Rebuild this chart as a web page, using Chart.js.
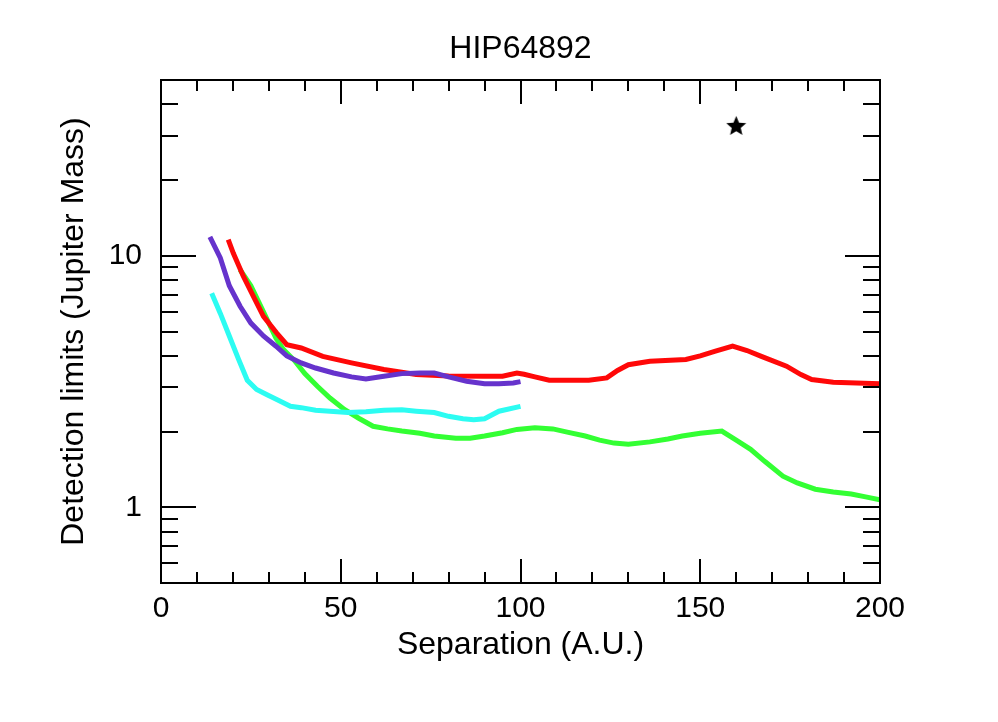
<!DOCTYPE html>
<html>
<head>
<meta charset="utf-8">
<script src="https://cdn.jsdelivr.net/npm/chart.js@4"></script>
<style>
  html, body { margin: 0; padding: 0; background: #fff; }
  canvas { display: block; }
</style>
</head>
<body>
<canvas id="c" width="998" height="722"></canvas>
<script>
// ---- data ----
const chartTitle = 'HIP64892';
const xTitle = 'Separation (A.U.)';
const yTitle = 'Detection limits (Jupiter Mass)';
const xTickLabels = [0, 50, 100, 150, 200];
const yTickLabels = [1, 10];
const yMinorTicks = [0.6, 0.7, 0.8, 0.9, 2, 3, 4, 5, 6, 7, 8, 9, 20, 30, 40];

const sepGreen = [22, 25, 28, 30, 32, 34, 37, 40, 43.5, 47, 51, 55, 59, 63, 67, 72, 76, 82, 86, 90, 95, 99, 104, 109, 113, 118, 122, 126, 130, 136, 141, 145, 150, 156, 160, 164, 168, 173, 177, 182, 187, 192, 196, 200];
const limGreen = [8.8, 7.6, 6.2, 5.4, 4.7, 4.25, 3.85, 3.4, 3.03, 2.72, 2.45, 2.26, 2.10, 2.05, 2.01, 1.97, 1.92, 1.88, 1.88, 1.92, 1.98, 2.04, 2.07, 2.05, 1.99, 1.92, 1.85, 1.80, 1.78, 1.82, 1.87, 1.92, 1.97, 2.01, 1.85, 1.70, 1.52, 1.33, 1.25, 1.18, 1.15, 1.13, 1.10, 1.07];

const sepRed = [18.7, 20.1, 22.9, 25.7, 28.5, 32.2, 35, 39, 45, 53, 62, 71, 80, 90, 95, 99, 101, 104, 108, 119, 124, 127, 130, 136, 146, 150, 154, 159, 163, 167, 174, 178, 181, 187, 200];
const limRed = [11.6, 10.25, 8.3, 6.9, 5.74, 4.93, 4.43, 4.3, 3.98, 3.75, 3.53, 3.37, 3.33, 3.32, 3.32, 3.42, 3.38, 3.30, 3.20, 3.20, 3.27, 3.50, 3.69, 3.81, 3.87, 4.0, 4.17, 4.37, 4.2, 3.98, 3.64, 3.37, 3.22, 3.14, 3.10];

const sepPurple = [13.6, 16.5, 19, 22, 25, 28.5, 32, 35, 39, 43, 48, 53, 57, 62, 67, 72, 76, 80, 85, 90, 94, 98, 100];
const limPurple = [11.9, 9.8, 7.6, 6.3, 5.4, 4.8, 4.37, 4.0, 3.75, 3.58, 3.42, 3.30, 3.24, 3.32, 3.40, 3.42, 3.42, 3.30, 3.17, 3.10, 3.10, 3.12, 3.16];

const sepCyan = [14.1, 16.5, 19, 21.5, 24, 26.6, 29.5, 32.2, 36, 39, 43, 52, 57, 62, 67, 71, 76, 80, 84, 87, 90, 94, 100];
const limCyan = [7.1, 5.9, 4.8, 3.9, 3.2, 2.94, 2.8, 2.68, 2.52, 2.49, 2.43, 2.38, 2.40, 2.43, 2.44, 2.41, 2.38, 2.30, 2.25, 2.23, 2.25, 2.41, 2.52];

const starSep = [160];
const starLim = [33];

// ---- helpers ----
const FONT = '"Liberation Sans", Arial, sans-serif';
const pts = (xs, ys) => xs.map((v, i) => ({ x: v, y: ys[i] }));

function makeStar(size) {
  const cv = document.createElement('canvas');
  cv.width = size; cv.height = size;
  const g = cv.getContext('2d');
  const cx = size / 2, cy = size / 2 + 1, R = size / 2, r = R * 0.45;
  g.beginPath();
  for (let i = 0; i < 10; i++) {
    const a = -Math.PI / 2 + i * Math.PI / 5;
    const rr = i % 2 === 0 ? R : r;
    const px = cx + rr * Math.cos(a), py = cy + rr * Math.sin(a);
    if (i === 0) g.moveTo(px, py); else g.lineTo(px, py);
  }
  g.closePath();
  g.fillStyle = '#000';
  g.fill();
  return cv;
}
const starImg = makeStar(21);

const frameTicks = {
  id: 'frameTicks',
  afterDatasetsDraw(chart) {
    const { ctx, chartArea: { left, right, top, bottom }, scales: { x, y } } = chart;
    ctx.save();
    ctx.strokeStyle = '#000';
    ctx.lineWidth = 2;
    ctx.lineCap = 'butt';
    ctx.strokeRect(left, top, right - left, bottom - top);
    ctx.beginPath();
    for (let v = x.min; v <= x.max; v += 10) {
      const px = Math.round(x.getPixelForValue(v));
      const len = (v % 50 === 0) ? 24 : 11;
      ctx.moveTo(px, bottom); ctx.lineTo(px, bottom - len);
      ctx.moveTo(px, top); ctx.lineTo(px, top + len);
    }
    const drawY = (v, len) => {
      const py = Math.round(y.getPixelForValue(v));
      ctx.moveTo(left, py); ctx.lineTo(left + len, py);
      ctx.moveTo(right, py); ctx.lineTo(right - len, py);
    };
    yTickLabels.forEach(v => drawY(v, 35));
    yMinorTicks.forEach(v => drawY(v, 17));
    ctx.stroke();
    // chart title centred over the plot area
    ctx.fillStyle = '#000';
    ctx.font = '32px ' + FONT;
    ctx.textAlign = 'center';
    ctx.textBaseline = 'middle';
    ctx.fillText(chartTitle, (left + right) / 2, 49);
    ctx.restore();
  }
};

new Chart(document.getElementById('c'), {
  type: 'scatter',
  data: {
    datasets: [
      { data: pts(starSep, starLim), pointStyle: starImg, pointRadius: 11, showLine: false, order: 0 },
      { data: pts(sepCyan, limCyan), borderColor: '#2cfcf2', order: 1 },
      { data: pts(sepPurple, limPurple), borderColor: '#6633cc', order: 2 },
      { data: pts(sepRed, limRed), borderColor: '#ff0808', order: 3 },
      { data: pts(sepGreen, limGreen), borderColor: '#33ff33', order: 4 }
    ].map(d => Object.assign({ showLine: true, borderWidth: 5, pointRadius: 0, tension: 0, fill: false }, d))
  },
  options: {
    responsive: false,
    devicePixelRatio: 1,
    animation: false,
    layout: { padding: { left: 0, right: 118, top: 80, bottom: 0 } },
    plugins: {
      legend: { display: false },
      tooltip: { enabled: false },
      title: { display: false }
    },
    scales: {
      x: {
        type: 'linear',
        position: 'bottom',
        min: 0, max: 200,
        afterBuildTicks: s => { s.ticks = xTickLabels.map(v => ({ value: v })); },
        ticks: { color: '#000', font: { family: FONT, size: 30 }, padding: 8, maxRotation: 0, autoSkip: false },
        grid: { display: false, drawTicks: false },
        border: { display: false },
        title: { display: true, text: xTitle, color: '#000', font: { family: FONT, size: 32 }, padding: { top: 0, bottom: 58 } },
        afterFit: s => { s.height = 722 - 583; }
      },
      y: {
        type: 'logarithmic',
        position: 'left',
        min: 0.5, max: 50,
        afterBuildTicks: s => { s.ticks = yTickLabels.map(v => ({ value: v })); },
        ticks: { color: '#000', font: { family: FONT, size: 30 }, padding: 19, callback: v => String(v), autoSkip: false },
        grid: { display: false, drawTicks: false },
        border: { display: false },
        title: { display: true, text: yTitle, color: '#000', font: { family: FONT, size: 32 }, padding: { top: 55, bottom: 0 } },
        afterFit: s => { s.width = 161; }
      }
    }
  },
  plugins: [frameTicks]
});
</script>
</body>
</html>
